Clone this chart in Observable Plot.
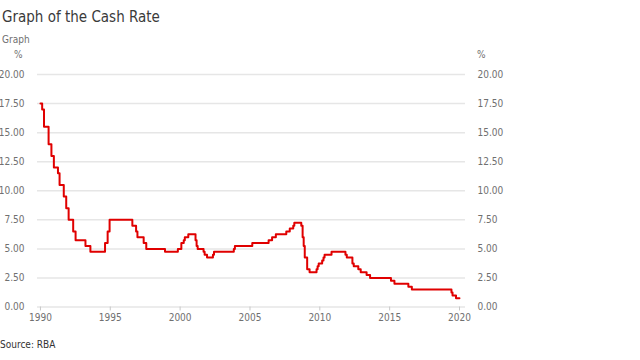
<!DOCTYPE html>
<html>
<head>
<meta charset="utf-8">
<script src="https://cdn.jsdelivr.net/npm/d3@7"></script>
<script src="https://cdn.jsdelivr.net/npm/@observablehq/plot@0.6"></script>
<style>
  html, body { margin: 0; padding: 0; background: #fff; }
  body { width: 640px; height: 360px; position: relative; overflow: hidden;
         font-family: "DejaVu Sans Condensed", "DejaVu Sans", sans-serif; }
  .t { position: absolute; white-space: nowrap; line-height: 1; }
  #title { left: 2px; top: 10px; font-size: 15px; color: #3a3a3a; }
  #sub { left: 2px; top: 35px; font-size: 10px; color: #707070; }
  #pl { left: 14px; top: 50px; font-size: 10px; color: #707070; }
  #pr { left: 477px; top: 50px; font-size: 10px; color: #707070; }
  #src { left: 0px; top: 340px; font-size: 10px; color: #333; }
  #chart { position: absolute; left: 0; top: 0; }
</style>
</head>
<body>
<div class="t" id="title">Graph of the Cash Rate</div>
<div class="t" id="sub">Graph</div>
<div class="t" id="pl">%</div>
<div class="t" id="pr">%</div>
<div id="chart"></div>
<div class="t" id="src">Source: RBA</div>
<script>
// Cash rate change dates and new rate (%)
const changeDates = [
  "1990-01-01","1990-02-15","1990-04-04","1990-08-02","1990-10-15","1990-12-18",
  "1991-04-04","1991-05-16","1991-09-03","1991-11-06","1992-01-08","1992-05-06",
  "1992-07-08","1993-03-23","1993-07-30","1994-08-17","1994-10-24","1994-12-14",
  "1996-07-31","1996-11-06","1996-12-11","1997-05-23","1997-07-30","1998-12-02",
  "1999-11-03","2000-02-02","2000-04-05","2000-05-03","2000-08-02","2001-02-07",
  "2001-03-07","2001-04-04","2001-09-05","2001-10-03","2001-12-05","2002-05-08",
  "2002-06-05","2003-11-05","2003-12-03","2005-03-02","2006-05-03","2006-08-02",
  "2006-11-08","2007-08-08","2007-11-07","2008-02-06","2008-03-05","2008-09-03",
  "2008-10-08","2008-11-05","2008-12-03","2009-02-04","2009-04-08","2009-10-07",
  "2009-11-04","2009-12-02","2010-03-03","2010-04-07","2010-05-05","2010-11-03",
  "2011-11-02","2011-12-07","2012-05-02","2012-06-06","2012-10-03","2012-12-05",
  "2013-05-08","2013-08-07","2015-02-04","2015-05-06","2016-05-04","2016-08-03",
  "2019-06-05","2019-07-03","2019-10-02","2019-12-31"
];
const cashRate = [
  17.5,17.0,15.5,14.0,13.0,12.0,
  11.5,10.5,9.5,8.5,7.5,6.5,
  5.75,5.25,4.75,5.5,6.5,7.5,
  7.0,6.5,6.0,5.5,5.0,4.75,
  5.0,5.5,5.75,6.0,6.25,5.75,
  5.25,5.0,4.75,4.5,4.25,4.5,
  4.75,5.0,5.25,5.5,5.75,6.0,
  6.25,6.5,6.75,7.0,7.25,7.0,
  6.0,5.25,4.25,3.25,3.0,3.25,
  3.5,3.75,4.0,4.25,4.5,4.75,
  4.5,4.25,3.75,3.5,3.25,3.0,
  2.75,2.5,2.25,2.0,1.75,1.5,
  1.25,1.0,0.75,0.75
];
const yTicks = [0, 2.5, 5, 7.5, 10, 12.5, 15, 17.5, 20];
const xTickYears = [1990, 1995, 2000, 2005, 2010, 2015, 2020];

const data = changeDates.map((d, i) => ({date: new Date(d), rate: cashRate[i]}));
const xTicks = xTickYears.map(y => new Date(Date.UTC(y, 0, 1)));
const fmt = d3.format(".2f");

const chart = Plot.plot({
  width: 640,
  height: 360,
  marginTop: 74,
  marginBottom: 53.5,
  marginLeft: 37,
  marginRight: 175,
  style: {fontFamily: '"DejaVu Sans Condensed", "DejaVu Sans", sans-serif', fontSize: "10px", color: "#707070", background: "transparent"},
  x: {type: "utc", domain: [new Date("1989-10-16"), new Date("2020-06-06")]},
  y: {domain: [0, 20]},
  marks: [
    Plot.gridY(yTicks, {stroke: "#e6e6e6", strokeOpacity: 1, strokeWidth: 1.5}),
    Plot.axisY(yTicks, {anchor: "left", tickSize: 0, tickPadding: 13, tickFormat: fmt, label: null}),
    Plot.axisY(yTicks, {anchor: "right", tickSize: 0, tickPadding: 12, tickFormat: fmt, label: null, textAnchor: "start"}),
    Plot.axisX(xTicks, {tickSize: 4, tickPadding: 3, tickFormat: d => String(d.getUTCFullYear()), label: null, stroke: "#c8c8c8"}),
    Plot.line(data, {x: "date", y: "rate", curve: "step-after", stroke: "#e00000", strokeWidth: 2})
  ]
});
document.getElementById("chart").appendChild(chart);
</script>
</body>
</html>
